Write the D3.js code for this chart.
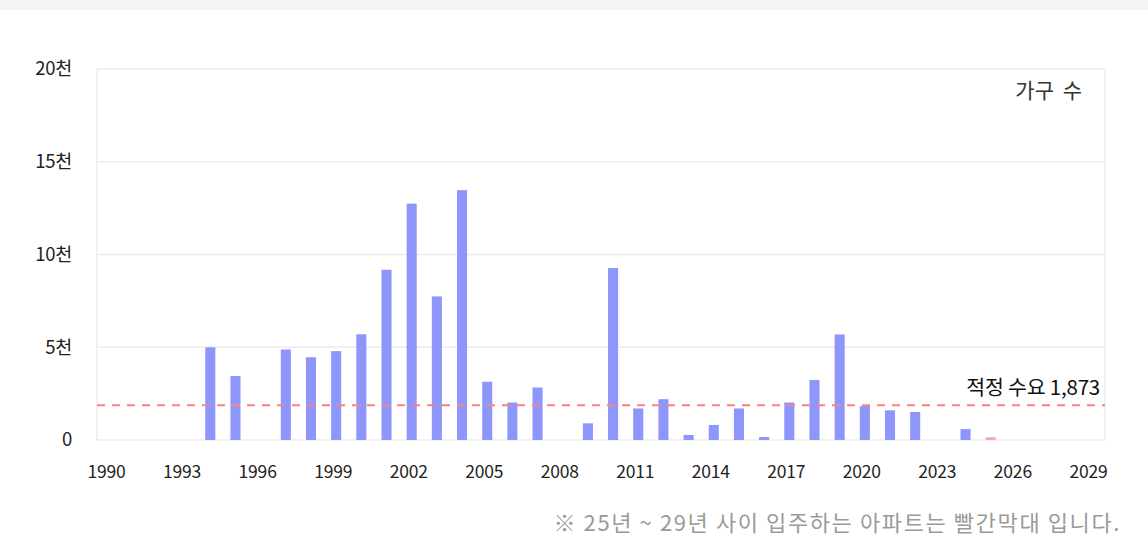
<!DOCTYPE html>
<html>
<head>
<meta charset="utf-8">
<script src="https://cdn.jsdelivr.net/npm/d3@7"></script>
<style>
  html, body { margin: 0; padding: 0; background: #fff; }
  svg { display: block; font-family: "Noto Sans CJK KR", "Noto Sans", sans-serif; }
</style>
</head>
<body>
<svg id="chart" width="1148" height="549"></svg>
<script>
const years = d3.range(1990, 2030);
const supplyYears = [1994,1995,1997,1998,1999,2000,2001,2002,2003,2004,2005,2006,2007,2009,2010,2011,2012,2013,2014,2015,2016,2017,2018,2019,2020,2021,2022,2024,2025];
const supplyValues = [5000,3450,4880,4460,4790,5700,9180,12740,7740,13470,3140,2020,2830,900,9270,1700,2200,270,810,1700,160,2020,3230,5690,1830,1600,1510,590,150];
const futureYears = [2025,2026,2027,2028,2029];
const demand = 1873;
const yTicks = [0, 5000, 10000, 15000, 20000];
const yTickLabels = ["0", "5천", "10천", "15천", "20천"];
const xTickYears = [1990,1993,1996,1999,2002,2005,2008,2011,2014,2017,2020,2023,2026,2029];
const unitLabel = "가구 수";
const demandLabel = "적정 수요 1,873";
const footnote = "※ 25년 ~ 29년 사이 입주하는 아파트는 빨간막대 입니다.";

(function () {
const svg = d3.select("#chart");
const W = 1148, H = 549;
const mLeft = 97, mRight = 1105, mTop = 69, mBottom = 440;

// top gray strip
svg.append("rect").attr("x", 0).attr("y", 0).attr("width", W).attr("height", 10).attr("fill", "#f4f4f4");

const x = d3.scaleBand().domain(years).range([mLeft, mRight - 1]).paddingInner(0.6).paddingOuter(0.3);
const y = d3.scaleLinear().domain([0, 20000]).range([mBottom, mTop]);

// gridlines
svg.append("g").selectAll("line").data(yTicks).join("line")
  .attr("x1", mLeft).attr("x2", mRight)
  .attr("y1", d => y(d)).attr("y2", d => y(d))
  .attr("stroke", "#ececec").attr("stroke-width", 1.5);
// plot border verticals
svg.append("line").attr("x1", mLeft).attr("x2", mLeft).attr("y1", mTop).attr("y2", mBottom).attr("stroke", "#ececec").attr("stroke-width", 1.5);
svg.append("line").attr("x1", mRight).attr("x2", mRight).attr("y1", mTop).attr("y2", mBottom).attr("stroke", "#ececec").attr("stroke-width", 1.5);

// y labels
svg.append("g").selectAll("text").data(yTicks).join("text")
  .attr("x", 72).attr("y", d => y(d)).attr("dy", "0.35em")
  .attr("text-anchor", "end").attr("font-size", 18.5).attr("fill", "#222")
  .attr("letter-spacing", -0.3)
  .text((d, i) => yTickLabels[i]);

// x labels
svg.append("g").selectAll("text").data(xTickYears).join("text")
  .attr("x", d => x(d) + x.bandwidth() / 2 - 3).attr("y", 472).attr("dy", "0.35em")
  .attr("text-anchor", "middle").attr("font-size", 17.5).attr("fill", "#222")
  .attr("letter-spacing", -0.2)
  .text(d => d);

// bars
const data = supplyYears.map((yr, i) => ({ yr, v: supplyValues[i] }));
svg.append("g").selectAll("rect").data(data).join("rect")
  .attr("x", d => x(d.yr)).attr("width", x.bandwidth())
  .attr("y", d => y(d.v)).attr("height", d => y(0) - y(d.v))
  .attr("fill", d => futureYears.includes(d.yr) ? "#f9a9a4" : "#8d97fb");

// demand dashed line
svg.append("line").attr("x1", mLeft).attr("x2", mRight)
  .attr("y1", y(demand)).attr("y2", y(demand))
  .attr("stroke", "#ff8080").attr("stroke-width", 1.8).attr("stroke-dasharray", "8,7");

svg.append("text").attr("x", 1100).attr("y", 388).attr("dy", "0.35em")
  .attr("text-anchor", "end").attr("font-size", 20.5).attr("fill", "#111")
  .attr("letter-spacing", -0.2).text(demandLabel);

svg.append("text").attr("x", 1082).attr("y", 91).attr("dy", "0.35em")
  .attr("text-anchor", "end").attr("font-size", 21).attr("fill", "#333")
  .attr("word-spacing", 4).text(unitLabel);

svg.append("text").attr("x", 1121).attr("y", 523).attr("dy", "0.35em")
  .attr("text-anchor", "end").attr("font-size", 22).attr("fill", "#9a9a9a")
  .attr("letter-spacing", 1.6).text(footnote);
})();
</script>
</body>
</html>
